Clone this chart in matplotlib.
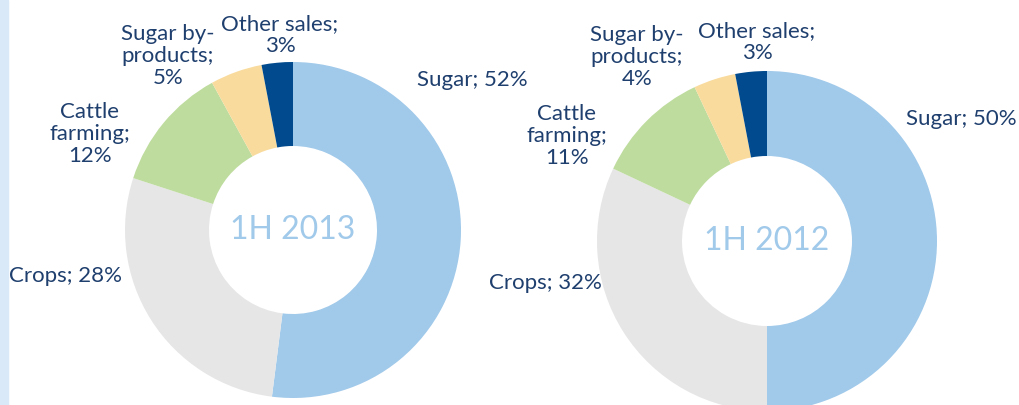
import matplotlib.pyplot as plt
from matplotlib.patches import Rectangle

segments = ["Sugar", "Crops", "Cattle farming", "Sugar by-products", "Other sales"]
label_text = ["Sugar; {}%", "Crops; {}%", "Cattle\nfarming;\n{}%",
              "Sugar by-\nproducts;\n{}%", "Other sales;\n{}%"]
share_2013 = [52, 28, 12, 5, 3]
share_2012 = [50, 32, 11, 4, 3]
titles = ["1H 2013", "1H 2012"]

colors = ["#A0C9EA", "#E6E6E6", "#BEDC9D", "#F9DB9D", "#004A8D"]
text_color = "#1F3F6E"

# layout in pixels (x from left, y from top)
centers = [(293, 230), (767, 241)]
radii = [168, 170]
label_pos = [
    [(472, 80), (66, 276), (90, 134), (168, 56), (280, 35)],
    [(961, 119), (545, 283), (567, 136), (637, 57), (757, 42)],
]

W, H = 1020, 405
fig = plt.figure(figsize=(W / 100, H / 100), dpi=100)
ax = fig.add_axes([0, 0, 1, 1])

ax.add_patch(Rectangle((0, 0), 8, H, color="#DAE9F7", zorder=0))

plt.rcParams["font.family"] = ["Lato", "DejaVu Sans"]

for values, title, (cx, cy), r, positions in zip(
        [share_2013, share_2012], titles, centers, radii, label_pos):
    ax.pie(values, colors=colors, startangle=90, counterclock=False,
           center=(cx, H - cy), radius=r, frame=True,
           wedgeprops=dict(width=r * 0.5, linewidth=0))
    ax.text(cx, H - cy, title, ha="center", va="center", fontsize=23,
            color="#A0C9EA")
    for fmt, v, (lx, ly) in zip(label_text, values, positions):
        ax.text(lx, H - ly, fmt.format(v), ha="center", va="center",
                fontsize=16, color=text_color, linespacing=1.1)

ax.set_xlim(0, W)
ax.set_ylim(0, H)
ax.set_aspect("equal")
ax.axis("off")

plt.savefig("out.png", dpi=100)
